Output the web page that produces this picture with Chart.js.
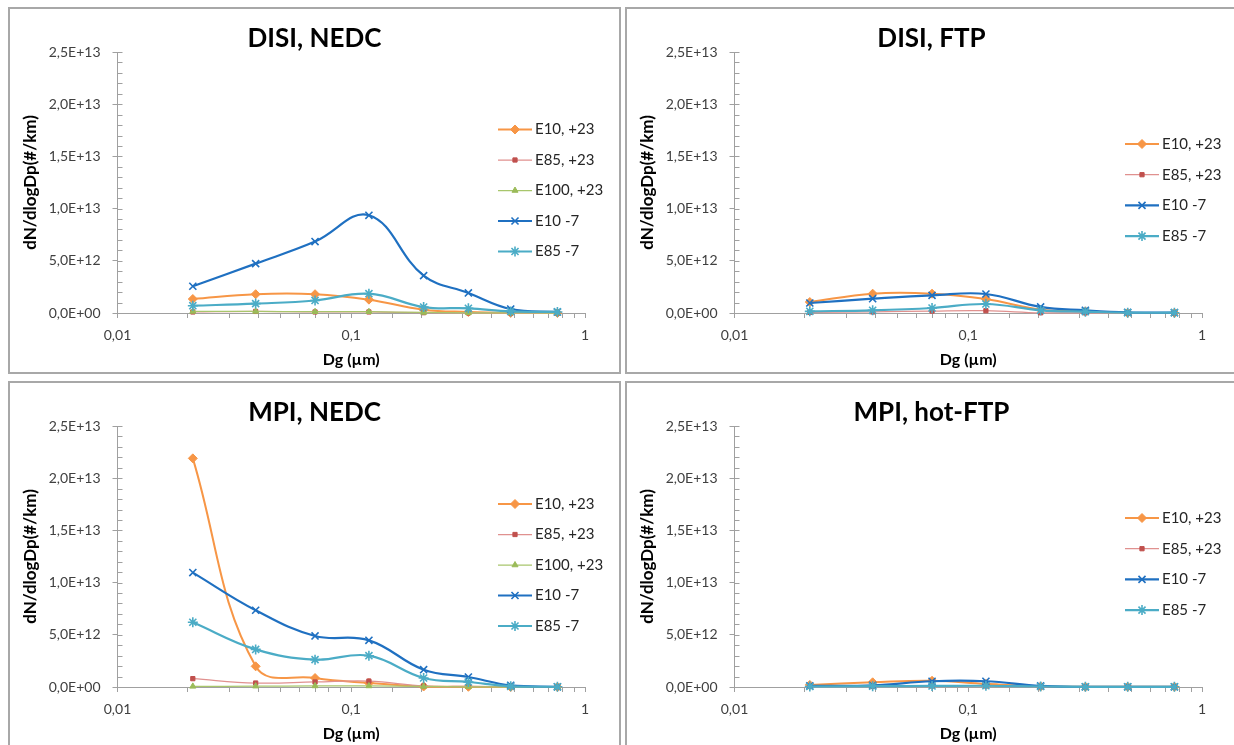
<!DOCTYPE html>
<html>
<head>
<meta charset="utf-8">
<title>Particle size distributions</title>
<script src="https://cdn.jsdelivr.net/npm/chart.js@4.4.1/dist/chart.umd.min.js"></script>
<style>
  html, body { margin: 0; padding: 0; background: #fff; }
  body { width: 1234px; height: 745px; overflow: hidden; position: relative; }
  .panel { position: absolute; width: 609px; height: 363px; border: 2px solid #a8a8a8; background: #fff; }
  .panel canvas { display: block; }
</style>
</head>
<body>
<div class="panel" style="left:8px;top:7px"><canvas id="disiNedc" width="609" height="363"></canvas></div>
<div class="panel" style="left:625px;top:7px"><canvas id="disiFtp" width="609" height="363"></canvas></div>
<div class="panel" style="left:8px;top:381px"><canvas id="mpiNedc" width="609" height="363"></canvas></div>
<div class="panel" style="left:625px;top:381px"><canvas id="mpiHotFtp" width="609" height="363"></canvas></div>
<script>
// values are dN/dlogDp in units of 1E+12 #/km
const UNIT = 1e12;

// mobility diameters (µm)
const sizes = [0.021, 0.039, 0.070, 0.119, 0.204, 0.317, 0.481, 0.762];

// tick labels
const xTickValues = [0.01, 0.1, 1];
const xTickLabels = ['0,01', '0,1', '1'];
const yTickLabels = ['0,0E+00', '5,0E+12', '1,0E+13', '1,5E+13', '2,0E+13', '2,5E+13'];

// DISI, NEDC
const disiNedcE10p23  = [1.34, 1.80, 1.80, 1.28, 0.32, 0.10, 0.01, 0.00];
const disiNedcE85p23  = [0.10, 0.15, 0.10, 0.10, 0.03, 0.01, 0.00, 0.00];
const disiNedcE100p23 = [0.15, 0.15, 0.12, 0.12, 0.05, 0.02, 0.01, 0.00];
const disiNedcE10m7   = [2.56, 4.73, 6.84, 9.36, 3.58, 1.92, 0.38, 0.10];
const disiNedcE85m7   = [0.70, 0.90, 1.20, 1.85, 0.57, 0.45, 0.15, 0.10];

// DISI, FTP
const disiFtpE10p23 = [1.05, 1.85, 1.85, 1.34, 0.32, 0.16, 0.01, 0.01];
const disiFtpE85p23 = [0.06, 0.10, 0.19, 0.22, 0.02, 0.01, 0.00, 0.00];
const disiFtpE10m7  = [0.96, 1.37, 1.69, 1.82, 0.58, 0.26, 0.06, 0.03];
const disiFtpE85m7  = [0.16, 0.26, 0.48, 0.86, 0.26, 0.13, 0.03, 0.03];

// MPI, NEDC
const mpiNedcE10p23  = [21.9, 1.98, 0.86, 0.38, 0.05, 0.02, 0.00, 0.00];
const mpiNedcE85p23  = [0.80, 0.38, 0.48, 0.57, 0.10, 0.05, 0.02, 0.01];
const mpiNedcE100p23 = [0.06, 0.08, 0.10, 0.10, 0.05, 0.02, 0.00, 0.00];
const mpiNedcE10m7   = [10.96, 7.35, 4.89, 4.47, 1.66, 0.96, 0.16, 0.02];
const mpiNedcE85m7   = [6.20, 3.60, 2.62, 3.00, 0.86, 0.48, 0.06, 0.02];

// MPI, hot-FTP
const mpiHotE10p23 = [0.20, 0.45, 0.60, 0.30, 0.05, 0.02, 0.02, 0.02];
const mpiHotE85p23 = [0.05, 0.05, 0.10, 0.10, 0.02, 0.02, 0.02, 0.02];
const mpiHotE10m7  = [0.10, 0.15, 0.55, 0.55, 0.10, 0.02, 0.02, 0.02];
const mpiHotE85m7  = [0.05, 0.08, 0.10, 0.12, 0.05, 0.02, 0.02, 0.02];

const axisColor = '#a0a0a0';
const tickColor = '#404040';
Chart.defaults.font.family = 'Lato, "Open Sans", sans-serif';

// look of each fuel / temperature series
const seriesStyles = {
    'E10, +23':  { line: '#f79646', width: 2,    marker: '#f79646', fill: '#f79646', style: 'rectRot',  radius: 4.5, mw: 1 },
    'E85, +23':  { line: '#e0918f', width: 1.25, marker: '#c0504d', fill: '#c0504d', style: 'rect',     radius: 3,   mw: 1 },
    'E100, +23': { line: '#a8c66c', width: 1.25, marker: '#9bbb59', fill: '#9bbb59', style: 'triangle', radius: 3.5, mw: 1 },
    'E10 -7':    { line: '#1f70c1', width: 2.2,  marker: '#1f70c1', fill: '#1f70c1', style: 'crossRot', radius: 5,   mw: 1.6 },
    'E85 -7':    { line: '#4bacc6', width: 2.2,  marker: '#4bacc6', fill: '#4bacc6', style: 'star',     radius: 5,   mw: 1.6 }
};

const panels = [
    { id: 'disiNedc', title: 'DISI, NEDC', legend: { x: 488, y: 120.5, step: 30.5 },
      series: [['E10, +23', disiNedcE10p23], ['E85, +23', disiNedcE85p23], ['E100, +23', disiNedcE100p23],
               ['E10 -7', disiNedcE10m7], ['E85 -7', disiNedcE85m7]] },
    { id: 'disiFtp', title: 'DISI, FTP', legend: { x: 498, y: 135, step: 30.7 },
      series: [['E10, +23', disiFtpE10p23], ['E85, +23', disiFtpE85p23],
               ['E10 -7', disiFtpE10m7], ['E85 -7', disiFtpE85m7]] },
    { id: 'mpiNedc', title: 'MPI, NEDC', legend: { x: 488, y: 121, step: 30.5 },
      series: [['E10, +23', mpiNedcE10p23], ['E85, +23', mpiNedcE85p23], ['E100, +23', mpiNedcE100p23],
               ['E10 -7', mpiNedcE10m7], ['E85 -7', mpiNedcE85m7]] },
    { id: 'mpiHotFtp', title: 'MPI, hot-FTP', legend: { x: 498, y: 135, step: 30.7 },
      series: [['E10, +23', mpiHotE10p23], ['E85, +23', mpiHotE85p23],
               ['E10 -7', mpiHotE10m7], ['E85 -7', mpiHotE85m7]] }
];

// Excel-like legend drawn inside the plot, line with marker in the middle
const inlineLegend = {
    id: 'inlineLegend',
    afterDatasetsDraw(chart, args, opts) {
        const ctx = chart.ctx;
        chart.data.datasets.forEach((ds, i) => {
            const y = opts.y + i * opts.step;
            ctx.save();
            ctx.strokeStyle = ds.borderColor;
            ctx.lineWidth = ds.borderWidth;
            ctx.beginPath();
            ctx.moveTo(opts.x, y);
            ctx.lineTo(opts.x + 34, y);
            ctx.stroke();
            ctx.fillStyle = ds.pointBackgroundColor;
            ctx.strokeStyle = ds.pointBorderColor;
            ctx.lineWidth = ds.pointBorderWidth;
            Chart.helpers.drawPoint(ctx, {
                pointStyle: ds.pointStyle, radius: ds.pointRadius,
                borderWidth: ds.pointBorderWidth, rotation: 0
            }, opts.x + 17, y);
            ctx.fillStyle = '#262626';
            ctx.font = '15px Lato, "Open Sans", sans-serif';
            ctx.textAlign = 'left';
            ctx.textBaseline = 'middle';
            ctx.fillText(ds.label, opts.x + 37, y);
            ctx.restore();
        });
    }
};

// minor ticks on the inner side of the value axis
const innerTicks = {
    id: 'innerTicks',
    beforeDatasetsDraw(chart) {
        const y = chart.scales.y;
        const left = chart.chartArea.left;
        const ctx = chart.ctx;
        ctx.save();
        ctx.strokeStyle = axisColor;
        ctx.lineWidth = 1;
        y.ticks.forEach(t => {
            const py = Math.round(y.getPixelForValue(t.value)) + 0.5;
            ctx.beginPath();
            ctx.moveTo(left, py);
            ctx.lineTo(left + 5, py);
            ctx.stroke();
        });
        ctx.restore();
    }
};

function isMajorY(value) {
    return Math.round(value / UNIT) % 5 === 0;
}

function xLabel(value) {
    const i = xTickValues.findIndex(v => Math.abs(value - v) / v < 1e-6);
    return i >= 0 ? xTickLabels[i] : '';
}

function buildChart(panel) {
    const datasets = panel.series.map(([name, values], i) => {
        const s = seriesStyles[name];
        return {
            label: name,
            data: sizes.map((d, k) => ({ x: d, y: values[k] * UNIT })),
            borderColor: s.line,
            borderWidth: s.width,
            pointStyle: s.style,
            pointRadius: s.radius,
            pointBorderColor: s.marker,
            pointBackgroundColor: s.fill,
            pointBorderWidth: s.mw,
            tension: 0.4,
            clip: false,
            order: -i
        };
    });

    return new Chart(document.getElementById(panel.id), {
        type: 'line',
        data: { datasets },
        plugins: [innerTicks, inlineLegend],
        options: {
            responsive: false,
            animation: false,
            events: [],
            layout: { padding: 0 },
            plugins: {
                legend: { display: false },
                tooltip: { enabled: false },
                title: {
                    display: true,
                    text: panel.title,
                    color: '#000',
                    font: { size: 26, weight: 'bold', lineHeight: 1 },
                    padding: { top: 16.5, bottom: 0.5 }
                },
                inlineLegend: panel.legend
            },
            scales: {
                x: {
                    type: 'logarithmic',
                    min: 0.01,
                    max: 1,
                    afterFit(s) { s.height = 59; },
                    border: { color: axisColor },
                    grid: { drawOnChartArea: false, tickLength: 5, color: axisColor },
                    ticks: {
                        autoSkip: false, maxRotation: 0, padding: 9,
                        color: tickColor, font: { size: 14 },
                        callback: v => xLabel(v)
                    },
                    title: {
                        display: true, text: 'Dg (µm)', color: '#000',
                        font: { size: 16, weight: 'bold' },
                        padding: { top: 0, bottom: 2.4 }
                    }
                },
                y: {
                    min: 0,
                    max: 25 * UNIT,
                    afterFit(s) { s.width = 107.5; },
                    border: { color: axisColor },
                    grid: {
                        drawOnChartArea: false, tickLength: 5,
                        color: c => (c.tick && isMajorY(c.tick.value)) ? axisColor : 'rgba(0,0,0,0)'
                    },
                    ticks: {
                        stepSize: UNIT, autoSkip: false, padding: 12,
                        color: tickColor, font: { size: 14 },
                        callback: v => isMajorY(v) ? yTickLabels[Math.round(v / UNIT) / 5] : ''
                    },
                    title: {
                        display: true, text: 'dN/dlogDp(#/km)', color: '#000',
                        font: { size: 17, weight: 'bold' },
                        padding: { top: 10.8, bottom: 0 }
                    }
                },
                // empty right margin so the title stays centred on the panel
                pad: {
                    position: 'right',
                    afterFit(s) { s.width = 34; },
                    grid: { display: false },
                    border: { display: false },
                    ticks: { display: false }
                }
            }
        }
    });
}

panels.forEach(buildChart);
</script>
</body>
</html>
